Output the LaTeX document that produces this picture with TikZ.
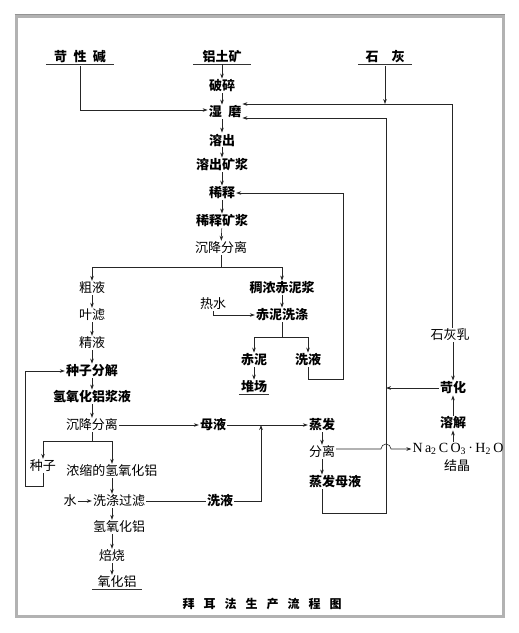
\documentclass[tikz,border=0pt]{standalone}
\usepackage{fontspec}
\setmainfont{Liberation Serif}
\newfontfamily\cjk{Noto Sans CJK SC}
\usetikzlibrary{arrows.meta,calc}
\begin{document}
\begin{tikzpicture}[x=1pt,y=-1pt,
  every node/.style={inner sep=1pt},
  bt/.style={font=\cjk\bfseries\fontsize{13}{15}\selectfont},
  lt/.style={font=\cjk\fontsize{13}{15}\selectfont},
  ln/.style={line width=0.6pt, draw=black!85},
  ar/.style={ln, -{Stealth[length=5pt,width=3.6pt]}},
  ul/.style={line width=0.7pt, draw=black!80}]
\useasboundingbox (0,0) rectangle (519,633);
% frame
\draw[gray!60, line width=3pt] (16,16) rectangle (503,616);
\draw[gray!85, line width=1.2pt] (14.5,14.5) -- (504.5,14.5);
% top inputs
\node[bt] (kx) at (80,57) {苛\hspace{0.5em}性\hspace{0.5em}碱};
\node[bt] (lt) at (222,57) {铝土矿};
\node[bt] (sh) at (385,57) {石\hspace{1em}灰};
\draw[ul] ([xshift=-7pt]kx.south west) -- ([xshift=7pt]kx.south east);
\draw[ul] ([xshift=-8pt]lt.south west) -- ([xshift=8pt]lt.south east);
\draw[ul] ([xshift=-6pt]sh.south west) -- ([xshift=6pt]sh.south east);
% main column
\node[bt] (ps) at (222,86) {破碎};
\node[bt] (sm) at (225,112) {湿\hspace{0.5em}磨};
\node[bt] (rc) at (222,140) {溶出};
\node[bt] (rk) at (222,165) {溶出矿浆};
\node[bt] (xs) at (222,193) {稀释};
\node[bt] (xk) at (222,221) {稀释矿浆};
\node[lt] (cj1) at (221,248) {沉降分离};
\draw[ar] (lt) -- (ps);
\draw[ar] (ps.south) -- (ps.south |- sm.north);
\draw[ar] (sm.south -| rc) -- (rc.north);
\draw[ar] (rc) -- (rk);
\draw[ar] (rk) -- (xs);
\draw[ar] (xs) -- (xk);
\draw[ar] (xk) -- (cj1);
% caustic soda to wet grinding
\draw[ar] (kx.south) ++(0,2) |- ($(sm.west)+(0,-2)$);
% lime
\coordinate (a1) at (452,104);
\coordinate (v2) at (386,118);
\draw[ar] (sh.south) ++(0,2) -- (sh.south |- a1);
\draw[ar] (a1) -- (sm.east |- a1);
% branches after first settling
\coordinate (b1) at (221,267);
\node[lt] (cy) at (92,288) {粗液};
\node[bt] (cn) at (282,288) {稠浓赤泥浆};
\draw[ln] (cj1.south) -- (b1);
\draw[ar] (b1) -| (cy.north);
\draw[ar] (b1) -| (cn.north);
% left column
\node[lt] (ys) at (92,315) {叶滤};
\node[lt] (jy) at (92,343) {精液};
\node[bt] (zf) at (92,371) {种子分解};
\node[bt] (qj) at (92,397) {氢氧化铝浆液};
\node[lt] (cj2) at (92,425) {沉降分离};
\draw[ar] (cy) -- (ys);
\draw[ar] (ys) -- (jy);
\draw[ar] (jy) -- (zf);
\draw[ar] (zf) -- (qj);
\draw[ar] (qj) -- (cj2);
% red mud washing
\node[lt] (rs) at (213,304) {热水};
\node[bt] (cx) at (282,315) {赤泥洗涤};
\draw[ar] (rs.south) |- (cx.west);
\draw[ar] (cn) -- (cx);
\coordinate (b2) at (282,337);
\node[bt] (cn2) at (254,360) {赤泥};
\node[bt] (xy1) at (308,360) {洗液};
\node[bt] (dc) at (254,387) {堆场};
\draw[ul] ([xshift=-1pt]dc.south west) -- ([xshift=1pt]dc.south east);
\draw[ln] (cx.south) -- (b2);
\draw[ar] (b2) -| (cn2.north);
\draw[ar] (b2) -| (xy1.north);
\draw[ar] (cn2) -- (dc);
\coordinate (l1) at (343,379);
\draw[ar] (xy1.south) |- (l1) |- (xs.east);
% seed split
\coordinate (b3) at (92,441);
\node[lt] (zz) at (43,466) {种子};
\node[lt] (ns) at (112,471) {浓缩的氢氧化铝};
\draw[ln] (cj2.south) -- (b3);
\draw[ar] (b3) -| (zz.north);
\draw[ar] (b3) -| (ns.north);
\coordinate (l2) at (25,486);
\draw[ar] (zz.south) |- (l2) |- (zf.west);
% washing / calcination
\node[lt] (s) at (70,501) {水};
\node[lt] (xl) at (119,501) {洗涤过滤};
\node[bt] (xy2) at (220,501) {洗液};
\node[lt] (qh) at (119,527) {氢氧化铝};
\node[lt] (bs) at (112,556) {焙烧};
\node[lt] (yh) at (117,582) {氧化铝};
\draw[ul] ([xshift=-4pt]yh.south west) -- ([xshift=4pt]yh.south east);
\draw[ar] (ns.south) -- (ns.south |- xl.north);
\draw[ar] (s) -- (xl);
\draw[ar] (xl.south -| ns) -- (qh.north -| ns);
\draw[ar] (qh.south -| bs) -- (bs.north);
\draw[ar] (bs) -- (yh.north -| bs);
\draw[ln] (xl) -- (xy2);
% mother liquor
\node[bt] (my) at (213,425) {母液};
\node[bt] (zfa) at (322,425) {蒸发};
\node[lt] (fl) at (322,452) {分离};
\node[bt] (zm) at (335,482) {蒸发母液};
\coordinate (j1) at (261,425);
\draw[ar] (cj2) -- (my);
\draw[ar] (my) -- (zfa);
\draw[ar] (xy2.east) -| (j1);
\draw[ar] (zfa) -- (fl);
\draw[ar] (fl.south) -- (fl.south |- zm.north);
\coordinate (l3) at (386,513);
\draw[ar] (zm.south -| fl) |- (l3) |- (sm.east |- v2);
% soda branch
\node (na) at (458,449) {\fontsize{14}{16}\selectfont N\,a\textsubscript{2}\,C\,O\textsubscript{3}\,·\,H\textsubscript{2}\,O};
\node[lt] (jj) at (457,466) {结晶};
\node[bt] (rj) at (453,423) {溶解};
\node[bt] (kh) at (453,388) {苛化};
\node[lt] (hr) at (450,335) {石灰乳};
\draw[ar] (fl.east |- na.west) -- ($(na.west -| l3)+(-5,0)$) arc[start angle=180,end angle=0,radius=5pt] -- (na.west);
\draw[ar] (na.north -| rj) -- (rj.south);
\draw[ar] (rj) -- (kh);
\draw[ln] (a1) -- (hr.north -| a1);
\draw[ar] (hr.south -| kh) -- (kh.north);
\draw[ar] (kh.west) -- (kh.west -| l3);
% title
\node[bt, font=\cjk\bfseries\fontsize{12}{14}\selectfont] (tt) at (262,604) {拜\hspace{9pt}耳\hspace{9pt}法\hspace{9pt}生\hspace{9pt}产\hspace{9pt}流\hspace{9pt}程\hspace{9pt}图};
\end{tikzpicture}
\end{document}
